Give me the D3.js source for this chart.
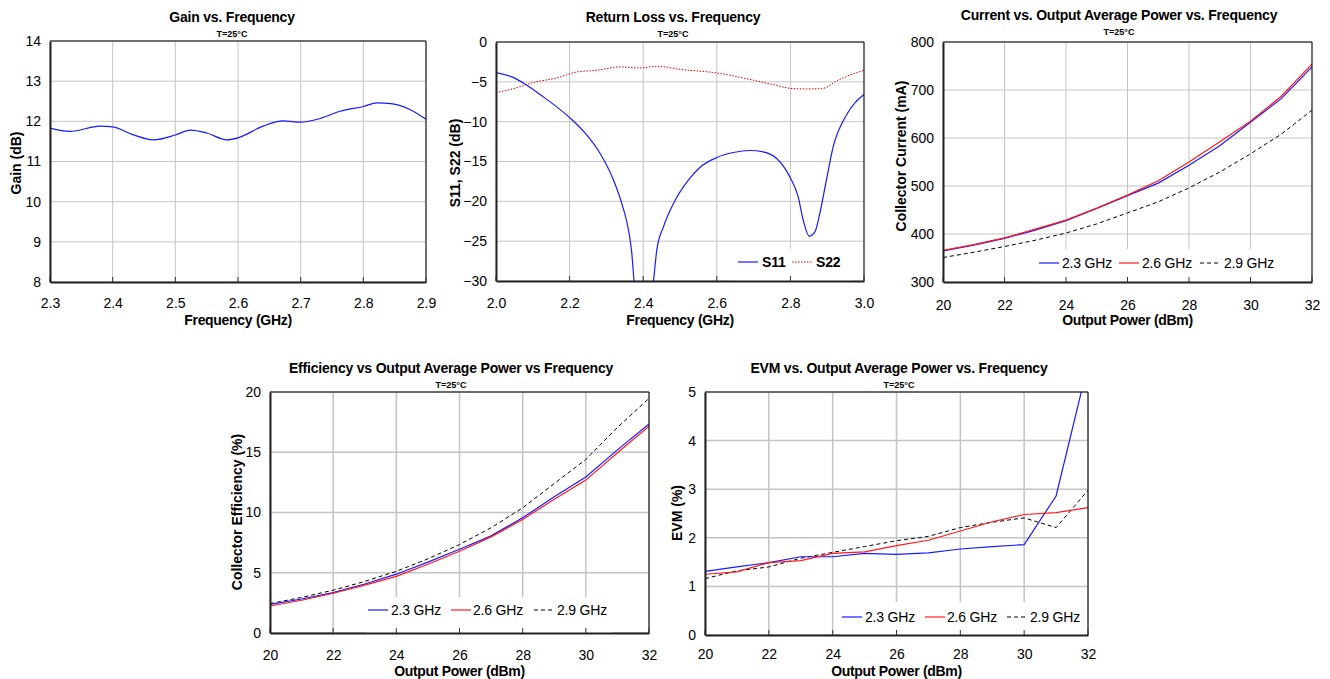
<!DOCTYPE html>
<html>
<head>
<meta charset="utf-8">
<script src="https://cdn.jsdelivr.net/npm/d3@7"></script>
<style>
  html, body { margin: 0; padding: 0; background: #fff; }
  svg text { font-family: "Liberation Sans", Arial, sans-serif; fill: #000; }
</style>
</head>
<body>
<svg id="chart" width="1330" height="679"></svg>
<script>
// ---------------- DATA ----------------
// Gain vs Frequency
const gainFreq = [2.3, 2.332, 2.38, 2.4, 2.432, 2.465, 2.5, 2.524, 2.55, 2.582, 2.6, 2.64, 2.672, 2.7, 2.731, 2.763, 2.8, 2.822, 2.844, 2.875, 2.9];
const gainDb   = [11.83, 11.75, 11.88, 11.86, 11.67, 11.54, 11.66, 11.78, 11.71, 11.54, 11.59, 11.88, 12.01, 11.98, 12.07, 12.25, 12.37, 12.46, 12.44, 12.29, 12.05];
const gainXTicks = [2.3, 2.4, 2.5, 2.6, 2.7, 2.8, 2.9];
const gainYTicks = [8, 9, 10, 11, 12, 13, 14];

// Return loss vs Frequency
const s11Freq = [2.0, 2.048, 2.084, 2.12, 2.2, 2.247, 2.283, 2.319, 2.342, 2.36, 2.369, 2.375, 2.385, 2.4, 2.415, 2.428, 2.437, 2.455, 2.482, 2.527, 2.554, 2.6, 2.645, 2.69, 2.726, 2.762, 2.798, 2.821, 2.835, 2.851, 2.867, 2.88, 2.898, 2.916, 2.952, 3.0];
const s11Db   = [-3.84, -4.47, -5.43, -6.6, -9.49, -11.7, -14.0, -17.3, -20.3, -23.6, -26.5, -30, -35, -40, -35, -30, -26.1, -23.2, -20.3, -17.1, -15.75, -14.5, -13.87, -13.62, -13.79, -14.6, -16.9, -19.4, -22.4, -24.36, -23.8, -21.5, -17.3, -13.2, -9.19, -6.6];
const s22Freq = [2.0, 2.048, 2.1, 2.166, 2.22, 2.274, 2.337, 2.39, 2.437, 2.5, 2.6, 2.7, 2.753, 2.807, 2.844, 2.885, 2.934, 3.0];
const s22Db   = [-6.35, -5.85, -5.1, -4.5, -3.76, -3.55, -3.13, -3.26, -3.05, -3.43, -3.89, -4.8, -5.35, -5.85, -5.89, -5.85, -4.68, -3.55];
const rlXTicks = [2.0, 2.2, 2.4, 2.6, 2.8, 3.0];
const rlYTicks = [-30, -25, -20, -15, -10, -5, 0];

// Output power axis (dBm)
const pout = [20, 21, 22, 23, 24, 25, 26, 27, 28, 29, 30, 31, 32];
const poutTicks = [20, 22, 24, 26, 28, 30, 32];
const freqLabels = ["2.3 GHz", "2.6 GHz", "2.9 GHz"];

// Collector current (mA)
const cur23 = [365, 377, 391, 408, 428, 453, 480, 506, 543, 584, 633, 682, 748];
const cur26 = [366, 378, 392, 410, 429, 454, 481, 511, 550, 592, 635, 687, 754];
const cur29 = [351, 362, 374, 387, 402, 421, 444, 467, 496, 529, 567, 608, 658];
const curYTicks = [300, 400, 500, 600, 700, 800];

// Collector efficiency (%)
const eff23 = [2.38, 2.82, 3.35, 4.07, 4.88, 5.88, 6.95, 8.06, 9.56, 11.3, 12.94, 15.2, 17.34];
const eff26 = [2.24, 2.72, 3.3, 3.97, 4.7, 5.7, 6.79, 7.98, 9.42, 11.1, 12.69, 14.96, 17.17];
const eff29 = [2.44, 2.95, 3.55, 4.28, 5.12, 6.15, 7.34, 8.73, 10.39, 12.4, 14.4, 17.06, 19.47];
const effYTicks = [0, 5, 10, 15, 20];

// EVM (%)
const evm23 = [1.31, 1.40, 1.49, 1.61, 1.61, 1.68, 1.66, 1.69, 1.77, 1.82, 1.86, 2.86, 5.57];
const evm26 = [1.25, 1.30, 1.49, 1.53, 1.68, 1.71, 1.84, 1.95, 2.14, 2.33, 2.48, 2.52, 2.62];
const evm29 = [1.16, 1.32, 1.40, 1.58, 1.70, 1.82, 1.94, 2.03, 2.21, 2.32, 2.41, 2.21, 2.98];
const evmYTicks = [0, 1, 2, 3, 4, 5];

// ---------------- DRAWING ----------------
const svg = d3.select("#chart");
const BLUE = "#1a1aff", RED = "#ff1a1a", BLACK = "#000";
let clipId = 0;

function drawChart(c) {
  const x = d3.scaleLinear().domain(c.xDomain).range([c.x0, c.x1]);
  const y = d3.scaleLinear().domain(c.yDomain).range([c.y1, c.y0]);
  const g = svg.append("g");

  // gridlines
  const grid = g.append("g").attr("stroke", "#c4c4c4").attr("stroke-width", c.gridW || 1);
  c.xTicks.forEach(t => grid.append("line").attr("x1", x(t)).attr("x2", x(t)).attr("y1", c.y0).attr("y2", c.y1));
  c.yTicks.forEach(t => grid.append("line").attr("x1", c.x0).attr("x2", c.x1).attr("y1", y(t)).attr("y2", y(t)));

  // legend background
  if (c.legend) {
    g.append("rect").attr("x", c.legend.bx0).attr("y", c.legend.by0)
      .attr("width", c.legend.bx1 - c.legend.bx0).attr("height", c.y1 - c.legend.by0)
      .attr("fill", "#fff");
  }

  // clip
  const id = "clip" + (clipId++);
  g.append("clipPath").attr("id", id).append("rect")
    .attr("x", c.x0).attr("y", c.y0).attr("width", c.x1 - c.x0).attr("height", c.y1 - c.y0);

  const lines = g.append("g").attr("clip-path", `url(#${id})`);
  c.series.forEach(s => {
    const line = d3.line().x(d => x(d[0])).y(d => y(d[1])).curve(s.curve || d3.curveLinear);
    lines.append("path").datum(d3.zip(s.xs, s.ys))
      .attr("d", line).attr("fill", "none")
      .attr("stroke", s.color).attr("stroke-width", s.width || 1.2)
      .attr("stroke-dasharray", s.dash || null);
  });

  // frame: top/right thin, bottom/left thicker
  g.append("line").attr("x1", c.x0).attr("x2", c.x1).attr("y1", c.y0).attr("y2", c.y0).attr("stroke", "#000").attr("stroke-width", 1);
  g.append("line").attr("x1", c.x1).attr("x2", c.x1).attr("y1", c.y0).attr("y2", c.y1).attr("stroke", "#000").attr("stroke-width", 1);

  // axes through d3
  const xAxis = d3.axisBottom(x).tickValues(c.xTicks).tickFormat(c.xFmt).tickSize(0).tickPadding(0);
  const xa = g.append("g").attr("transform", `translate(0,${c.y1})`).call(xAxis);
  xa.select(".domain").attr("stroke", "#222").attr("stroke-width", 2);
  xa.selectAll("text").attr("y", c.xLabelY - c.y1).attr("dy", "0.35em")
    .style("font-size", "14px").style("font-family", '"Liberation Sans", Arial, sans-serif').attr("fill", "#000");
  // inward ticks
  c.xTicks.forEach(t => g.append("line").attr("x1", x(t)).attr("x2", x(t)).attr("y1", c.y1 - 5).attr("y2", c.y1).attr("stroke", "#333").attr("stroke-width", 1));

  const yAxis = d3.axisLeft(y).tickValues(c.yTicks).tickFormat(c.yFmt || d3.format("d")).tickSize(0).tickPadding(9);
  const ya = g.append("g").attr("transform", `translate(${c.x0},0)`).call(yAxis);
  ya.select(".domain").attr("stroke", "#222").attr("stroke-width", 2);
  ya.selectAll("text").style("font-size", "14px").style("font-family", '"Liberation Sans", Arial, sans-serif').attr("fill", "#000");

  // titles
  g.append("text").attr("x", c.titleX).attr("y", c.titleY).attr("text-anchor", "middle").attr("dy", "0.35em")
    .style("font-size", "14px").style("font-weight", "bold").style("letter-spacing", "-0.2px").text(c.title);
  g.append("text").attr("x", c.titleX).attr("y", c.titleY + 16.5).attr("text-anchor", "middle").attr("dy", "0.35em")
    .style("font-size", "9px").style("font-weight", "bold").text("T=25°C");
  g.append("text").attr("x", (c.x0 + c.x1) / 2).attr("y", c.xTitleY).attr("text-anchor", "middle").attr("dy", "0.35em")
    .style("font-size", "14px").style("font-weight", "bold").style("letter-spacing", "-0.3px").text(c.xTitle);
  g.append("text").attr("transform", `translate(${c.yTitleX},${c.yTitleCY}) rotate(-90)`).attr("text-anchor", "middle").attr("dy", "0.35em")
    .style("font-size", "14px").style("font-weight", "bold").text(c.yTitle);

  // legend items
  if (c.legend) {
    c.legend.items.forEach(it => {
      g.append("line").attr("x1", it.lx0).attr("x2", it.lx1).attr("y1", c.legend.y).attr("y2", c.legend.y)
        .attr("stroke", it.color).attr("stroke-width", it.width || 1.2).attr("stroke-dasharray", it.dash || null);
      g.append("text").attr("x", it.tx).attr("y", c.legend.y).attr("dy", "0.35em")
        .style("font-size", "14px").style("font-weight", it.bold ? "bold" : "normal")
        .style("letter-spacing", "-0.2px").text(it.label);
    });
  }
}

// Gain
drawChart({
  x0: 50, x1: 426, y0: 41, y1: 282,
  xDomain: [2.3, 2.9], yDomain: [8, 14],
  xTicks: gainXTicks, yTicks: gainYTicks, xFmt: d3.format(".1f"),
  xLabelY: 303, xTitleY: 320, yTitleX: 16, yTitleCY: 163,
  titleX: 232, titleY: 17,
  title: "Gain vs. Frequency", xTitle: "Frequency (GHz)", yTitle: "Gain (dB)",
  series: [{ xs: gainFreq, ys: gainDb, color: BLUE, curve: d3.curveMonotoneX }]
});

// Return loss
drawChart({
  x0: 496, x1: 864, y0: 42, y1: 281,
  xDomain: [2.0, 3.0], yDomain: [-30, 0],
  xTicks: rlXTicks, yTicks: rlYTicks, xFmt: d3.format(".1f"),
  xLabelY: 303, xTitleY: 320, yTitleX: 455, yTitleCY: 163,
  titleX: 673, titleY: 17,
  title: "Return Loss vs. Frequency", xTitle: "Frequency (GHz)", yTitle: "S11, S22 (dB)",
  series: [
    { xs: s22Freq, ys: s22Db, color: "#e00000", dash: "1.5,1.5", width: 1, curve: d3.curveMonotoneX },
    { xs: s11Freq, ys: s11Db, color: BLUE, curve: d3.curveMonotoneX }
  ],
  legend: { bx0: 733, bx1: 852, by0: 249, y: 262, items: [
    { lx0: 738, lx1: 758, tx: 762, color: BLUE, label: "S11", bold: true },
    { lx0: 792, lx1: 812, tx: 816, color: "#e00000", dash: "1.5,1.5", width: 1, label: "S22", bold: true }
  ]}
});

// Current
drawChart({
  x0: 943, x1: 1312, y0: 42, y1: 282,
  xDomain: [20, 32], yDomain: [300, 800],
  xTicks: poutTicks, yTicks: curYTicks, xFmt: d3.format("d"),
  xLabelY: 305, xTitleY: 320, yTitleX: 901, yTitleCY: 156,
  titleX: 1119, titleY: 15,
  title: "Current vs. Output Average Power vs. Frequency", xTitle: "Output Power (dBm)", yTitle: "Collector Current (mA)",
  series: [
    { xs: pout, ys: cur29, color: BLACK, dash: "4,3", width: 1 },
    { xs: pout, ys: cur23, color: BLUE },
    { xs: pout, ys: cur26, color: RED }
  ],
  legend: { bx0: 1037, bx1: 1282, by0: 249, y: 263, items: [
    { lx0: 1039, lx1: 1059, tx: 1062, color: BLUE, label: freqLabels[0] },
    { lx0: 1119, lx1: 1139, tx: 1142, color: RED, label: freqLabels[1] },
    { lx0: 1200, lx1: 1220, tx: 1224, color: BLACK, dash: "4,3", width: 1, label: freqLabels[2] }
  ]}
});

// Efficiency
drawChart({
  x0: 270, x1: 649, y0: 392, y1: 633, gridW: 1.5,
  xDomain: [20, 32], yDomain: [0, 20],
  xTicks: poutTicks, yTicks: effYTicks, xFmt: d3.format("d"),
  xLabelY: 655, xTitleY: 671, yTitleX: 237, yTitleCY: 512,
  titleX: 451, titleY: 368,
  title: "Efficiency vs Output Average Power vs Frequency", xTitle: "Output Power (dBm)", yTitle: "Collector Efficiency (%)",
  series: [
    { xs: pout, ys: eff29, color: BLACK, dash: "4,3", width: 1 },
    { xs: pout, ys: eff23, color: BLUE },
    { xs: pout, ys: eff26, color: RED }
  ],
  legend: { bx0: 366, bx1: 612, by0: 597, y: 610, items: [
    { lx0: 368, lx1: 388, tx: 391, color: BLUE, label: freqLabels[0] },
    { lx0: 451, lx1: 471, tx: 473, color: RED, label: freqLabels[1] },
    { lx0: 534, lx1: 553, tx: 557, color: BLACK, dash: "4,3", width: 1, label: freqLabels[2] }
  ]}
});

// EVM
drawChart({
  x0: 705, x1: 1088, y0: 392, y1: 635, gridW: 1.5,
  xDomain: [20, 32], yDomain: [0, 5],
  xTicks: poutTicks, yTicks: evmYTicks, xFmt: d3.format("d"),
  xLabelY: 654, xTitleY: 671, yTitleX: 677, yTitleCY: 513,
  titleX: 899, titleY: 368,
  title: "EVM vs. Output Average Power vs. Frequency", xTitle: "Output Power (dBm)", yTitle: "EVM (%)",
  series: [
    { xs: pout, ys: evm29, color: BLACK, dash: "4,3", width: 1 },
    { xs: pout, ys: evm23, color: BLUE },
    { xs: pout, ys: evm26, color: RED }
  ],
  legend: { bx0: 840, bx1: 1086, by0: 602, y: 617, items: [
    { lx0: 842, lx1: 862, tx: 865, color: BLUE, label: freqLabels[0] },
    { lx0: 925, lx1: 945, tx: 947, color: RED, label: freqLabels[1] },
    { lx0: 1007, lx1: 1027, tx: 1030, color: BLACK, dash: "4,3", width: 1, label: freqLabels[2] }
  ]}
});
</script>
</body>
</html>
